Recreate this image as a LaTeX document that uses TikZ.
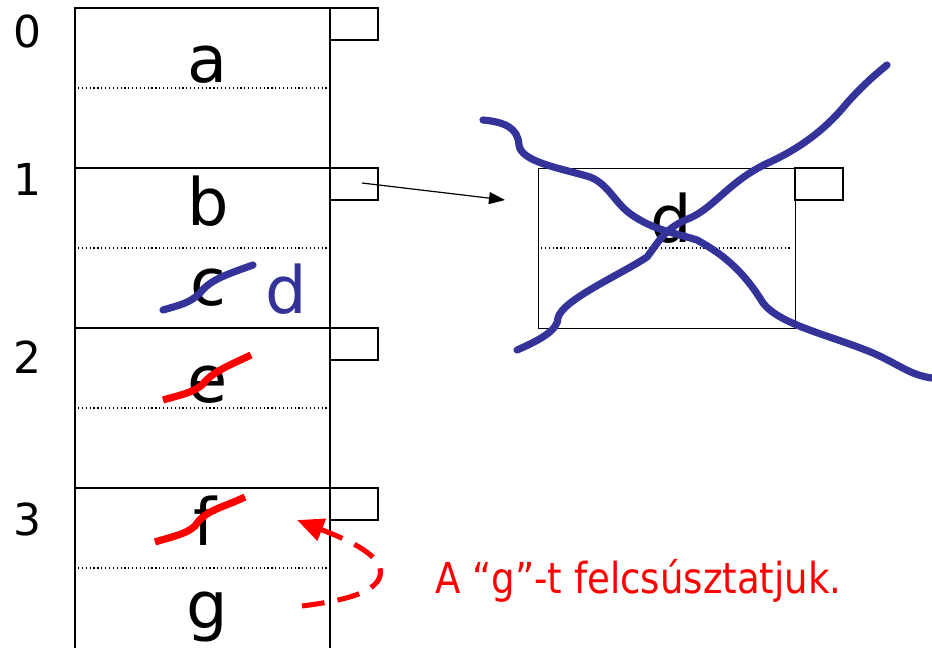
\documentclass[tikz,border=0pt]{standalone}
\usepackage{fontspec}
\setmainfont{DejaVu Sans}
\newfontfamily\msgfont[FakeStretch=0.87]{DejaVu Sans}
\usetikzlibrary{arrows.meta}
\definecolor{strikeblue}{RGB}{51,51,153}
\definecolor{strikered}{RGB}{255,0,0}
\begin{document}
\begin{tikzpicture}[x=0.75pt,y=-0.75pt,
  frame/.style={draw=black,line width=1.5pt},
  flag/.style={draw=black,line width=1.1pt},
  sep/.style={draw=black,line width=0.9pt,dotted},
  letter/.style={inner sep=0pt,anchor=base,font=\fontsize{49}{55}\selectfont},
  idx/.style={inner sep=0pt,anchor=base,font=\fontsize{33}{38}\selectfont},
  bluestrike/.style={draw=strikeblue,line width=5.4pt,line cap=round},
  redstrike/.style={draw=strikered,line width=5.4pt},
]
\useasboundingbox (0,0) rectangle (932,647);
% column
\draw[frame] (75,660) -- (75,8) -- (330,8) -- (330,660);
\foreach \yy in {168,328,488} \draw[frame] (75,\yy) -- (330,\yy);
\foreach \yy in {88,248,408,568} \draw[sep] (78,\yy) -- (327,\yy);
\foreach \yy in {8,168,328,488} \draw[flag] (330,\yy) rectangle (378,\yy+32);
% indices
\node[idx] (n0) at (27,47) {0};
\node[idx] (n1) at (27,195) {1};
\node[idx] (n2) at (27,373) {2};
\node[idx] (n3) at (27,535) {3};
% letters
\node[letter] (la) at (208,82) {a};
\node[letter] (lb) at (208,225) {b};
\node[letter] (lc) at (208,305) {c};
\node[letter] (le) at (208,402) {e};
\node[letter] (lf) at (205,545) {f};
\node[letter] (lg) at (207,628) {g};
\node[letter,text=strikeblue] (ld) at (286,313) {d};
% right record
\node[draw=black,line width=1.1pt,minimum width=192.75pt,minimum height=120pt,inner sep=0pt,anchor=north west] (rec) at (538,168) {};
\draw[sep] (541,248) -- (792,248);
\draw[flag] (795,168) rectangle (843,200);
\node[letter] (rd) at (671,242) {d};
% pointer arrow
\coordinate (pstart) at (362,183);
\coordinate (pend) at (505,200);
\draw[line width=0.9pt,-{Triangle[length=12pt,width=9pt]}] (pstart) -- (pend);
% strikes on c, e, f
\draw[bluestrike] (163,310) .. controls (180,305) and (190,303) .. (200,293)
  .. controls (210,280) and (225,275) .. (253,265);
\draw[redstrike] (163,400) .. controls (180,395) and (192,393) .. (202,385)
  .. controls (212,372) and (228,366) .. (251,355);
\draw[redstrike] (155,542) .. controls (170,537) and (185,535) .. (195,526)
  .. controls (205,510) and (222,508) .. (245,497);
% big cross
\draw[bluestrike] (483,120) .. controls (505,122) and (518,128) .. (519,145)
  .. controls (521,162) and (560,168) .. (590,177)
  .. controls (610,185) and (615,205) .. (635,217)
  .. controls (655,230) and (675,233) .. (697,240)
  .. controls (715,250) and (740,265) .. (763,303)
  .. controls (780,325) and (830,335) .. (873,353)
  .. controls (900,365) and (910,375) .. (932,378);
\draw[bluestrike] (517,350) .. controls (540,340) and (558,330) .. (558,318)
  .. controls (562,300) and (620,275) .. (647,257)
  .. controls (660,240) and (665,228) .. (690,218)
  .. controls (715,207) and (730,180) .. (770,162)
  .. controls (800,148) and (825,130) .. (847,103)
  .. controls (865,83) and (875,75) .. (887,65);
% move arrow
\coordinate (mstart) at (302,606);
\coordinate (mtip) at (297,520);
\draw[draw=strikered,line width=3.8pt,dash pattern=on 17pt off 10pt,-{Triangle[length=20pt,width=17pt]}]
  (mstart) .. controls (350,600) and (385,590) .. (380,568)
  .. controls (375,550) and (335,535) .. (mtip);
\node[inner sep=0pt,anchor=base west,text=strikered,font=\msgfont\fontsize{32}{38}\selectfont] (msg) at (435,593) {A “g”-t felcsúsztatjuk.};
\end{tikzpicture}
\end{document}
